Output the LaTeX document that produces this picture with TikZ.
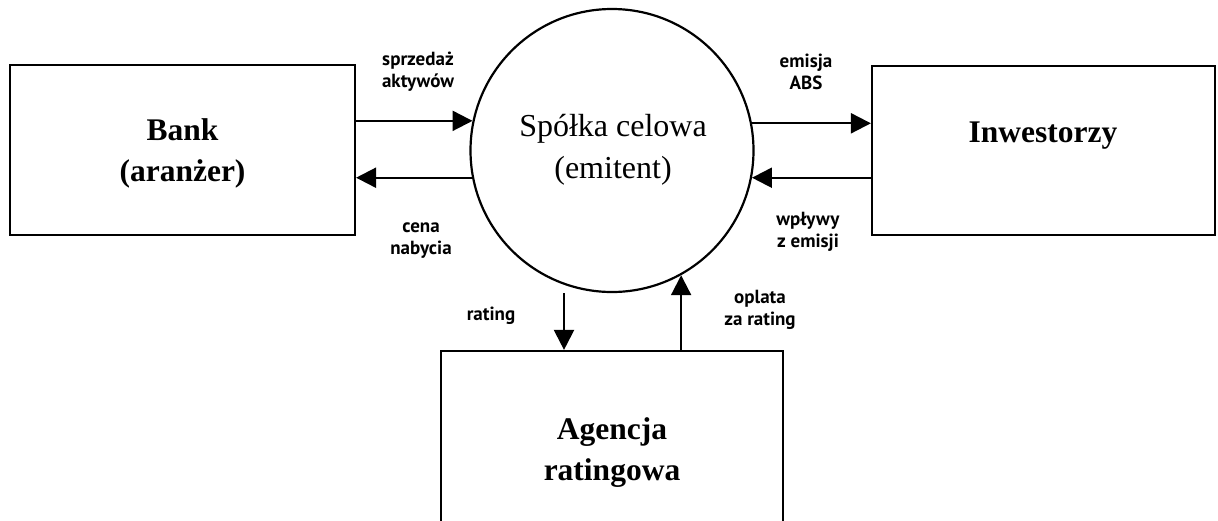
\documentclass[tikz,border=0pt]{standalone}
\usepackage{fontspec}
\setmainfont{Liberation Serif}
\newfontfamily\labelfont{PT Sans}
\usetikzlibrary{arrows.meta}
\begin{document}
\begin{tikzpicture}[x=1pt,y=-1pt,
  box/.style={draw, line width=2.2pt, rectangle, inner sep=0pt},
  title/.style={font=\bfseries\fontsize{31.5}{41}\selectfont, align=center, inner sep=0pt},
  note/.style={font=\labelfont\bfseries\fontsize{19}{22}\selectfont, align=center, inner sep=0pt},
  flow/.style={line width=2.2pt, -{Triangle[length=20pt,width=20pt]}}]
\useasboundingbox (0,0) rectangle (1218,520);
\clip (0,0) rectangle (1218,520);
% boxes and the special purpose vehicle
\node[box, minimum width=345pt, minimum height=170pt] (bank) at (182.5,150) {};
\node[box, minimum width=343pt, minimum height=169pt] (inv) at (1043.5,150.5) {};
\node[box, minimum width=342pt, minimum height=200pt] (agency) at (612,451) {};
\node[draw, circle, line width=2.2pt, minimum size=283pt, inner sep=0pt] (spv) at (612,150.5) {};
% box titles
\node[title] (banktxt) at (182.5,153) {Bank\\(aranżer)};
\node[title] (invtxt) at (1043,136) {Inwestorzy};
\node[title] (agtxt) at (612,453) {Agencja\\ratingowa};
\node[font=\fontsize{32}{42}\selectfont, align=center, inner sep=0pt] (spvtxt) at (613,150) {Spółka celowa\\(emitent)};
% flows
\draw[flow] (bank.east |- spv.168.4) -- (spv.168.4);
\draw[flow] (spv.191.2) -- (bank.east |- spv.191.2);
\draw[flow] (spv.11.6) -- (inv.west |- spv.11.6);
\draw[flow] (inv.west |- spv.-11.2) -- (spv.-11.2);
\coordinate (ratingtop) at ([xshift=-48pt]spv.south);
\draw[flow] (ratingtop) -- (ratingtop |- agency.north);
\draw[flow] (agency.north -| spv.-61.7) -- (spv.-61.7);
% flow labels
\node[note] (l1) at (418,72) {sprzedaż\\aktywów};
\node[note] (l2) at (421,241) {cena\\nabycia};
\node[note] (l3) at (806,72) {emisja\\ABS};
\node[note] (l4) at (808,232) {wpływy\\z emisji};
\node[note] (l5) at (491,316) {rating};
\node[note] (l6) at (760,310) {oplata\\za rating};
\end{tikzpicture}
\end{document}
